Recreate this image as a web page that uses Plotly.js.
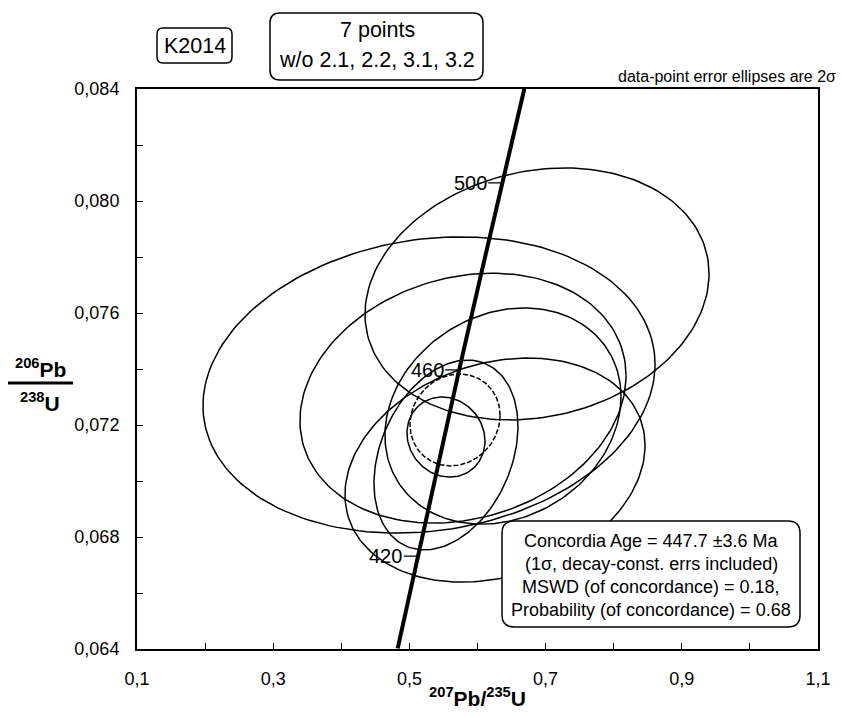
<!DOCTYPE html>
<html><head><meta charset="utf-8">
<script src="https://cdn.plot.ly/plotly-3.0.1.min.js"></script>
<style>html,body{margin:0;padding:0;background:#fff}</style>
</head><body><div id="chart" style="width:842px;height:718px"></div>
<script>
// ---- data (207Pb/235U, 206Pb/238U) ----
const ellipseX   = [0.6874, 0.5288, 0.5787, 0.6374, 0.5537, 0.6257, 0.5537];
const ellipseY   = [0.07668, 0.07343, 0.07296, 0.07232, 0.07093, 0.07039, 0.07157];
const ellipseSX  = [0.2526, 0.3319, 0.2394, 0.1733, 0.1057, 0.2203, 0.0573]; // 2σ
const ellipseSY  = [0.00450, 0.00529, 0.00446, 0.00386, 0.00339, 0.00400, 0.00143]; // 2σ
const ellipseRho = [0.16, 0.14, 0.18, 0.18, 0.30, 0.22, -0.10];

const concAgeX = 0.567, concAgeY = 0.07218, concAgeSX = 0.0661, concAgeSY = 0.00164, concAgeRho = 0.10;

const concordiaAges = [400, 420, 440, 460, 480, 500, 520];
const concordiaX = [0.4828, 0.5123, 0.5424, 0.5731, 0.6044, 0.6363, 0.6688];
const concordiaY = [0.06402, 0.06732, 0.07064, 0.07397, 0.07730, 0.08065, 0.08401];
const ageLabels = [420, 460, 500];

const xTickVals = [0.1, 0.3, 0.5, 0.7, 0.9, 1.1];
const xTickText = ['0,1', '0,3', '0,5', '0,7', '0,9', '1,1'];
const yTickVals = [0.064, 0.068, 0.072, 0.076, 0.080, 0.084];
const yTickText = ['0,064', '0,068', '0,072', '0,076', '0,080', '0,084'];

const boxLines = ['Concordia Age = 447.7 \u00b13.6 Ma', '(1\u03c3, decay-const. errs included)',
                  'MSWD (of concordance) = 0.18,', 'Probability (of concordance) = 0.68'];

// ---- build traces ----
function ellipsePts(cx, cy, sx, sy, rho) {
  const xs = [], ys = [], k = Math.sqrt(1 - rho * rho);
  for (let i = 0; i <= 180; i++) {
    const t = 2 * Math.PI * i / 180;
    xs.push(cx + sx * Math.cos(t));
    ys.push(cy + sy * (rho * Math.cos(t) + k * Math.sin(t)));
  }
  return [xs, ys];
}
const traces = [];
for (let i = 0; i < ellipseX.length; i++) {
  const [xs, ys] = ellipsePts(ellipseX[i], ellipseY[i], ellipseSX[i], ellipseSY[i], ellipseRho[i]);
  traces.push({x: xs, y: ys, mode: 'lines', line: {color: '#000', width: 1.5}, hoverinfo: 'skip', showlegend: false});
}
{
  const [xs, ys] = ellipsePts(concAgeX, concAgeY, concAgeSX, concAgeSY, concAgeRho);
  traces.push({x: xs, y: ys, mode: 'lines', line: {color: '#000', width: 1.5, dash: '5px,2px'}, hoverinfo: 'skip', showlegend: false});
}
traces.push({x: concordiaX, y: concordiaY, mode: 'lines', line: {color: '#000', width: 4}, hoverinfo: 'skip', showlegend: false});

// ---- layout helpers (pixel -> paper) ----
const L = 137, R = 818, T = 89, B = 649, W = R - L, H = B - T;
const px = x => (x - L) / W, py = y => (B - y) / H;
function roundRect(x0, y0, x1, y1, r) {
  const p = (x, y) => px(x).toFixed(5) + ',' + py(y).toFixed(5);
  return 'M' + p(x0 + r, y0) + ' L' + p(x1 - r, y0) + ' Q' + p(x1, y0) + ' ' + p(x1, y0 + r) +
    ' L' + p(x1, y1 - r) + ' Q' + p(x1, y1) + ' ' + p(x1 - r, y1) +
    ' L' + p(x0 + r, y1) + ' Q' + p(x0, y1) + ' ' + p(x0, y1 - r) +
    ' L' + p(x0, y0 + r) + ' Q' + p(x0, y0) + ' ' + p(x0 + r, y0) + ' Z';
}
const FONT = 'Liberation Sans, Arial, sans-serif';
const ann = (x, y, text, size, extra) => Object.assign({xref: 'paper', yref: 'paper', x: px(x), y: py(y),
  text: text, showarrow: false, xanchor: 'center', yanchor: 'middle', font: {family: FONT, size: size, color: '#000'}}, extra || {});

const annotations = [
  ann(195, 46, 'K2014', 21.5),
  ann(377, 30, '7 points', 21.5),
  ann(377, 60, 'w/o 2.1, 2.2, 3.1, 3.2', 21.5),
  ann(838, 76, 'data-point error ellipses are 2\u03c3', 16, {xanchor: 'right'}),
  ann(40, 368, '<b><sup>206</sup>Pb</b>', 21),
  ann(40, 402, '<b><sup>238</sup>U</b>', 21),
];
const boxLineY = [541, 564, 587, 610];
boxLines.forEach((t, i) => annotations.push(ann(651, boxLineY[i], t, 18)));
ageLabels.forEach(a => {
  const i = concordiaAges.indexOf(a);
  annotations.push({x: concordiaX[i], y: concordiaY[i], xref: 'x', yref: 'y', text: String(a),
    showarrow: true, arrowhead: 0, arrowwidth: 1.2, arrowcolor: '#000', ax: -32, ay: 0,
    font: {family: FONT, size: 20, color: '#000'}});
});

const shapes = [
  {type: 'path', xref: 'paper', yref: 'paper', path: roundRect(157, 28, 232, 63, 6), line: {color: '#000', width: 1.5}, fillcolor: 'rgba(0,0,0,0)', layer: 'above'},
  {type: 'path', xref: 'paper', yref: 'paper', path: roundRect(270, 13, 483, 80, 10), line: {color: '#000', width: 1.5}, fillcolor: 'rgba(0,0,0,0)', layer: 'above'},
  {type: 'path', xref: 'paper', yref: 'paper', path: roundRect(502, 521, 800, 627, 12), line: {color: '#000', width: 1.5}, fillcolor: '#fff', layer: 'above'},
  {type: 'line', xref: 'paper', yref: 'paper', x0: px(8), x1: px(73), y0: py(383), y1: py(383), line: {color: '#000', width: 3}},
];

const axisCommon = {showgrid: false, zeroline: false, showline: true, linecolor: '#000', linewidth: 2, mirror: true,
  ticks: 'inside', ticklen: 6, tickwidth: 1, tickcolor: '#000', tickmode: 'array',
  tickfont: {family: FONT, size: 18, color: '#000'}, fixedrange: true};

const layout = {
  width: 842, height: 718, margin: {l: L, r: 842 - R, t: T, b: 718 - B}, paper_bgcolor: '#fff', plot_bgcolor: '#fff',
  showlegend: false,
  xaxis: Object.assign({}, axisCommon, {range: [0.1, 1.1], tickvals: xTickVals, ticktext: xTickText,
    title: {text: '<b><sup>207</sup>Pb/<sup>235</sup>U</b>', font: {family: FONT, size: 21, color: '#000'}, standoff: 4},
    minor: {dtick: 0.1, tick0: 0.1, ticks: 'inside', ticklen: 6, tickcolor: '#000', tickwidth: 1}, ticklabelstandoff: 12}),
  yaxis: Object.assign({}, axisCommon, {range: [0.064, 0.084], tickvals: yTickVals, ticktext: yTickText,
    minor: {dtick: 0.002, tick0: 0.064, ticks: 'inside', ticklen: 6, tickcolor: '#000', tickwidth: 1}, ticklabelstandoff: 12}),
  annotations: annotations, shapes: shapes,
};
Plotly.newPlot('chart', traces, layout, {staticPlot: true, displayModeBar: false});
</script></body></html>
